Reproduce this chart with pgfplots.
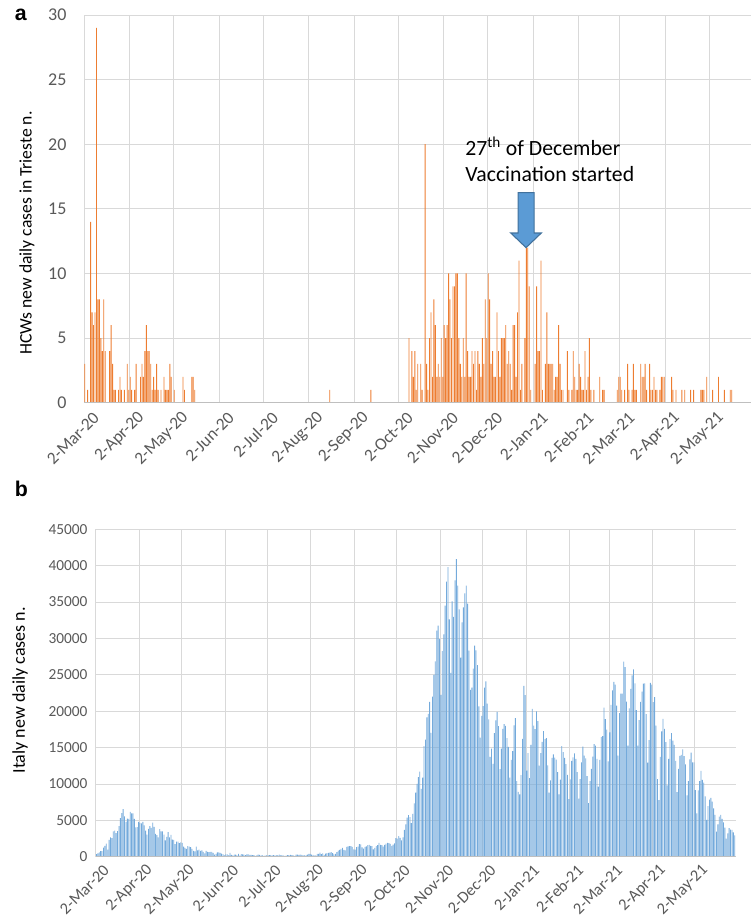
\documentclass[border=0pt]{standalone}
\usepackage{fontspec}
\setmainfont{Carlito}
\newfontfamily\arialfont{Liberation Sans}
\usepackage{pgfplots}
\usepackage{pgfplotstable}
\pgfplotsset{compat=1.18}

\definecolor{xlorange}{HTML}{ED7D31}
\definecolor{xlblue}{HTML}{5B9BD5}
\definecolor{xlbluedark}{HTML}{41719C}
\definecolor{gridgray}{HTML}{D9D9D9}
\definecolor{ticktext}{HTML}{595959}
\definecolor{axisgray}{HTML}{BFBFBF}

% HCWs new daily cases in Trieste, one row per day from 2-Mar-20 (one line = one week)
\pgfplotstableread[row sep=\\]{
v\\
3\\0\\1\\0\\14\\7\\6\\
7\\29\\8\\8\\5\\4\\8\\
4\\0\\0\\4\\6\\3\\1\\
1\\0\\1\\2\\1\\0\\1\\
0\\3\\1\\2\\1\\0\\1\\
3\\0\\0\\2\\3\\2\\4\\
6\\4\\4\\3\\1\\2\\1\\
3\\1\\0\\1\\0\\2\\1\\
1\\1\\3\\2\\0\\1\\0\\
0\\0\\0\\0\\2\\1\\0\\
0\\0\\0\\2\\2\\1\\0\\
0\\0\\0\\0\\0\\0\\0\\
0\\0\\0\\0\\0\\0\\0\\
0\\0\\0\\0\\0\\0\\0\\
0\\0\\0\\0\\0\\0\\0\\
0\\0\\0\\0\\0\\0\\0\\
0\\0\\0\\0\\0\\0\\0\\
0\\0\\0\\0\\0\\0\\0\\
0\\0\\0\\0\\0\\0\\0\\
0\\0\\0\\0\\0\\0\\0\\
0\\0\\0\\0\\0\\0\\0\\
0\\0\\0\\0\\0\\0\\0\\
0\\0\\0\\0\\0\\0\\0\\
0\\0\\0\\0\\0\\0\\1\\
0\\0\\0\\0\\0\\0\\0\\
0\\0\\0\\0\\0\\0\\0\\
0\\0\\0\\0\\0\\0\\0\\
0\\0\\0\\0\\0\\0\\1\\
0\\0\\0\\0\\0\\0\\0\\
0\\0\\0\\0\\0\\0\\0\\
0\\0\\0\\0\\0\\0\\0\\
0\\0\\0\\0\\5\\0\\4\\
2\\4\\1\\3\\0\\3\\1\\
0\\20\\3\\1\\5\\7\\2\\
8\\6\\2\\3\\2\\5\\2\\
6\\5\\6\\10\\8\\5\\9\\
9\\10\\10\\5\\3\\2\\5\\
2\\10\\4\\2\\2\\4\\3\\
4\\1\\4\\3\\2\\5\\3\\
8\\5\\10\\8\\3\\4\\2\\
2\\7\\4\\2\\5\\5\\5\\
6\\3\\4\\3\\1\\6\\6\\
2\\7\\11\\1\\3\\0\\5\\
12\\12\\9\\1\\0\\0\\3\\
9\\4\\4\\11\\1\\0\\3\\
7\\3\\3\\3\\3\\1\\2\\
2\\6\\3\\1\\1\\0\\0\\
4\\1\\0\\1\\4\\2\\1\\
1\\3\\2\\1\\1\\4\\1\\
2\\5\\1\\0\\1\\0\\0\\
0\\2\\0\\1\\1\\0\\0\\
0\\0\\0\\0\\0\\0\\1\\
2\\2\\1\\0\\1\\0\\3\\
1\\0\\1\\3\\1\\1\\0\\
0\\3\\2\\2\\3\\1\\0\\
3\\1\\1\\2\\1\\1\\0\\
1\\2\\2\\2\\0\\0\\0\\
0\\2\\1\\0\\1\\0\\0\\
0\\1\\0\\1\\0\\0\\0\\
1\\0\\1\\0\\0\\0\\0\\
1\\1\\1\\0\\2\\0\\0\\
0\\1\\0\\0\\0\\2\\0\\
0\\0\\1\\0\\0\\0\\1\\
1\\0\\0\\0\\0\\0\\0\\
0\\0\\0\\0\\0\\0\\0\\
}\hcw

% Italy new daily cases, one row per day from 2-Mar-20 (one line = one week)
\pgfplotstableread[row sep=\\]{
v\\
342\\466\\587\\769\\778\\1247\\1492\\
1797\\977\\2313\\2651\\2547\\3497\\3590\\
3233\\3526\\4207\\5322\\5986\\6557\\5560\\
4789\\5249\\5210\\6153\\5959\\5974\\5217\\
4050\\4053\\4782\\4668\\4585\\4805\\4316\\
3599\\3039\\3836\\4204\\3951\\4694\\4092\\
3153\\2972\\2667\\3786\\3493\\3491\\3047\\
2256\\2729\\3370\\2646\\3021\\2357\\2324\\
1739\\2091\\2086\\1872\\1965\\1900\\1389\\
1221\\1075\\1444\\1401\\1327\\1083\\802\\
744\\1402\\888\\992\\789\\875\\675\\
451\\813\\665\\642\\652\\669\\531\\
300\\397\\584\\593\\516\\416\\355\\
178\\318\\321\\177\\518\\270\\197\\
280\\283\\202\\379\\163\\346\\338\\
301\\210\\329\\333\\251\\262\\224\\
218\\122\\190\\296\\259\\175\\174\\
126\\142\\187\\201\\223\\235\\192\\
208\\138\\193\\229\\276\\188\\234\\
169\\114\\162\\230\\233\\249\\219\\
190\\129\\282\\306\\252\\275\\255\\
170\\181\\202\\289\\386\\379\\295\\
239\\159\\190\\384\\402\\552\\347\\
463\\259\\412\\481\\523\\574\\629\\
479\\320\\403\\642\\845\\947\\1071\\
1210\\953\\878\\1367\\1411\\1460\\1444\\
1365\\996\\978\\1326\\1397\\1733\\1695\\
1297\\1108\\1370\\1434\\1597\\1616\\1501\\
1458\\1008\\1229\\1452\\1585\\1907\\1638\\
1587\\1392\\1640\\1786\\1912\\1869\\1766\\
1494\\1648\\1851\\2548\\2499\\2844\\2578\\
2257\\2677\\3678\\4458\\5372\\5724\\5456\\
4619\\5901\\7332\\8804\\10010\\10925\\11705\\
9338\\10874\\15199\\16079\\19143\\19644\\21273\\
17012\\21994\\24991\\26831\\31084\\31758\\29907\\
22253\\28244\\30550\\34505\\37809\\39811\\32616\\
25271\\35098\\32961\\37978\\40902\\37255\\33979\\
27354\\32191\\34283\\36176\\37242\\34767\\28337\\
22930\\23232\\25853\\29003\\28352\\26323\\20648\\
16377\\19350\\20709\\23225\\24099\\21052\\18887\\
13720\\14842\\12756\\16999\\18727\\19903\\17938\\
12030\\14844\\17572\\18236\\17992\\16308\\15104\\
10872\\13318\\14522\\18040\\19037\\10407\\8913\\
8585\\11212\\16202\\23477\\22211\\11831\\14245\\
10800\\15378\\20331\\18020\\17533\\19978\\18627\\
12532\\14242\\15774\\17246\\16146\\16310\\12545\\
8824\\10497\\13571\\14078\\13633\\13331\\11629\\
8561\\10593\\15204\\14372\\13574\\12715\\11252\\
7925\\10630\\13189\\13659\\14218\\13442\\11641\\
7970\\10680\\12956\\15146\\13908\\13532\\11068\\
7351\\10386\\12074\\13762\\15479\\15270\\13452\\
9630\\13314\\16424\\16586\\20499\\18916\\17455\\
13114\\17083\\20884\\22865\\24036\\23641\\20765\\
13902\\19749\\22409\\22409\\26824\\26062\\21315\\
15267\\20396\\23059\\24935\\25735\\23832\\20159\\
15267\\18765\\21267\\22701\\23790\\23839\\19611\\
12916\\16017\\23904\\23649\\21261\\21932\\18025\\
10680\\7767\\13708\\17221\\18938\\17567\\15746\\
9789\\13447\\16168\\16974\\15943\\15370\\13158\\
8864\\12074\\13844\\13988\\14761\\13817\\12694\\
8444\\10404\\13385\\14320\\12965\\12965\\9148\\
5948\\9116\\10404\\11807\\10554\\10176\\8292\\
5080\\6946\\7852\\8085\\7567\\6659\\5753\\
3455\\4452\\5506\\5741\\5218\\4717\\3995\\
2490\\3224\\3937\\3738\\3695\\3351\\2949\\
}\italy

\pgfplotsset{
  dailybars/.style={
    scale only axis,
    ybar,
    axis line style={draw=none},
    tick style={draw=none},
    xmin=0, ymin=0,
    xtick={0,31,61,92,122,153,184,214,245,275,306,337,365,396,426},
    xticklabels={2-Mar-20,2-Apr-20,2-May-20,2-Jun-20,2-Jul-20,2-Aug-20,2-Sep-20,2-Oct-20,2-Nov-20,2-Dec-20,2-Jan-21,2-Feb-21,2-Mar-21,2-Apr-21,2-May-21},
    xmajorgrids, ymajorgrids,
    major grid style={gridgray, line width=0.6pt},
    ticklabel style={text=ticktext},
    xticklabel style={rotate=45, anchor=east, inner sep=0pt, yshift=-10pt, xshift=3pt,
      font=\fontsize{13}{15}\selectfont},
    /pgf/number format/assume math mode=true,
    /pgf/number format/1000 sep={},
    scaled y ticks=false,
  }
}

\begin{document}
\begin{tikzpicture}
\path[use as bounding box] (0,0) rectangle (563.25pt,690.75pt);

% panel a
\begin{axis}[dailybars,
  at={(63pt,388.7pt)}, anchor=south west,
  width=500.1pt, height=290.8pt,
  xmax=454.5, ymax=30,
  ytick={0,5,...,30},
  yticklabel style={anchor=east, inner sep=0pt, xshift=-13pt,
    font=\fontsize{13.5}{16}\selectfont},
]
\addplot[fill=xlorange, draw=none, bar width=0.6] table[x expr=\coordindex+0.5, y=v] {\hcw};
\draw[axisgray, line width=1.4pt] (rel axis cs:0,0) -- (rel axis cs:1,0);
\filldraw[fill=xlblue, draw=xlbluedark, line width=0.8pt]
  (axis cs:295.85,16.25) -- (axis cs:306.75,16.25) -- (axis cs:306.75,13.13)
  -- (axis cs:311.7,13.13) -- (axis cs:301.3,12.0) -- (axis cs:290.9,13.13)
  -- (axis cs:295.85,13.13) -- cycle;
\end{axis}

% panel b
\begin{axis}[dailybars,
  at={(71.8pt,48.2pt)}, anchor=south west,
  width=480pt, height=245.6pt,
  xmax=455.2, ymax=45000,
  ytick={0,5000,...,45000},
  xticklabel style={yshift=1.5pt, font=\fontsize{12.3}{14}\selectfont},
  yticklabel style={anchor=east, inner sep=0pt, xshift=-6pt,
    font=\fontsize{11.5}{13}\selectfont},
]
\addplot[fill=xlblue!85, draw=none, bar width=0.6] table[x expr=\coordindex+0.5, y=v] {\italy};
\draw[axisgray, line width=1.4pt] (rel axis cs:0,0) -- (rel axis cs:1,0);
\end{axis}

% annotation and labels
\node[anchor=base west, inner sep=0pt, font=\fontsize{16.3}{19}\selectfont] at (348.75pt,573.75pt) {27\textsuperscript{th} of December};
\node[anchor=base west, inner sep=0pt, font=\fontsize{16.3}{19}\selectfont] at (348.75pt,554.5pt) {Vaccination started};
\node[rotate=90, inner sep=0pt, font=\fontsize{13.2}{16}\selectfont] at (20.25pt,516pt) {HCWs new daily cases in Trieste n.};
\node[rotate=90, inner sep=0pt, font=\fontsize{13.5}{16}\selectfont] at (15pt,173pt) {Italy new daily cases n.};
\node[anchor=base west, inner sep=0pt, font=\arialfont\bfseries\fontsize{16}{19}\selectfont] at (11pt,675pt) {a};
\node[anchor=base west, inner sep=0pt, font=\arialfont\bfseries\fontsize{16}{19}\selectfont] at (11pt,318pt) {b};
\end{tikzpicture}
\end{document}
